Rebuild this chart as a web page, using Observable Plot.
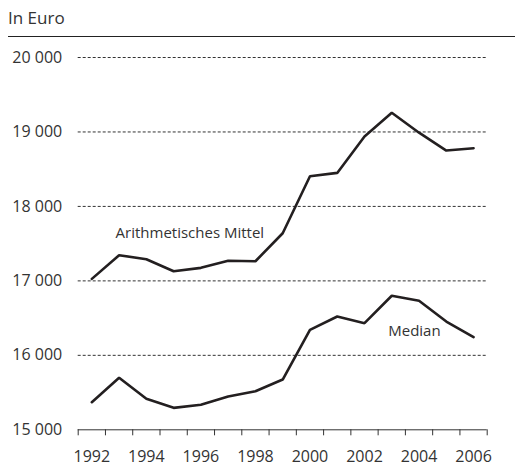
<!DOCTYPE html>
<html><head><meta charset="utf-8">
<script src="https://cdn.jsdelivr.net/npm/d3@7"></script>
<script src="https://cdn.jsdelivr.net/npm/@observablehq/plot@0.6"></script>
<style>
body{margin:0;background:#fff;font-family:"Open Sans",sans-serif;color:#333}
#title{height:37px;box-sizing:border-box;margin-left:8px;padding-top:8px;font-size:17px;line-height:20px;border-bottom:1.5px solid #222}
#chart svg{display:block}
</style></head><body>
<div id="title">In Euro</div>
<div id="chart"></div>
<script>
const years = [1992,1993,1994,1995,1996,1997,1998,1999,2000,2001,2002,2003,2004,2005,2006];
const meanValues = [17027,17345,17291,17130,17175,17270,17264,17640,18405,18450,18940,19257,18990,18750,18782];
const medianValues = [15371,15698,15416,15295,15336,15447,15518,15675,16343,16522,16432,16800,16733,16454,16244];
const yTicks = [15000,16000,17000,18000,19000,20000];
const xLabelYears = [1992,1994,1996,1998,2000,2002,2004,2006];
const seriesNames = ["Arithmetisches Mittel","Median"];

const locale = d3.formatLocale({decimal:",", thousands:"\u00a0", grouping:[3], currency:["","€"]});
const fmt = locale.format(",");

const meanData = years.map((y,i)=>({year:y, value:meanValues[i]}));
const medianData = years.map((y,i)=>({year:y, value:medianValues[i]}));
const labelData = [
  {name:seriesNames[0], year:1993.37, value:17636},
  {name:seriesNames[1], year:2003.37, value:16324}
];

const chart = Plot.plot({
  width:515, height:431,
  marginLeft:77.7, marginRight:28.3, marginTop:20, marginBottom:38.7,
  x:{domain:[1992,2007]},
  y:{domain:[15000,20000]},
  style:{fontFamily:"'Open Sans',sans-serif", fontSize:"16px", color:"#333", background:"#fff"},
  marks:[
    Plot.gridY(yTicks.filter(d=>d>15000), {stroke:"#333", strokeOpacity:1, strokeDasharray:"3,2"}),
    Plot.ruleY([15000], {stroke:"#333"}),
    Plot.axisY(yTicks, {tickSize:0, tickPadding:16, tickFormat:fmt, label:null, fontSize:16}),
    Plot.axisX(d3.range(1992,2008), {tickSize:6, tickFormat:()=>"", label:null}),
    Plot.axisX(xLabelYears.map(y=>y+0.5), {tickSize:0, tickPadding:21, tickFormat:d=>String(Math.floor(d)), label:null, fontSize:16}),
    Plot.line(meanData, {x:d=>d.year+0.5, y:"value", stroke:"#231f20", strokeWidth:2.6, strokeLinejoin:"miter"}),
    Plot.line(medianData, {x:d=>d.year+0.5, y:"value", stroke:"#231f20", strokeWidth:2.6, strokeLinejoin:"miter"}),
    Plot.text(labelData, {x:"year", y:"value", text:"name", textAnchor:"start", fontSize:15, fill:"#333"})
  ]
});
document.getElementById("chart").appendChild(chart);
</script>
</body></html>
